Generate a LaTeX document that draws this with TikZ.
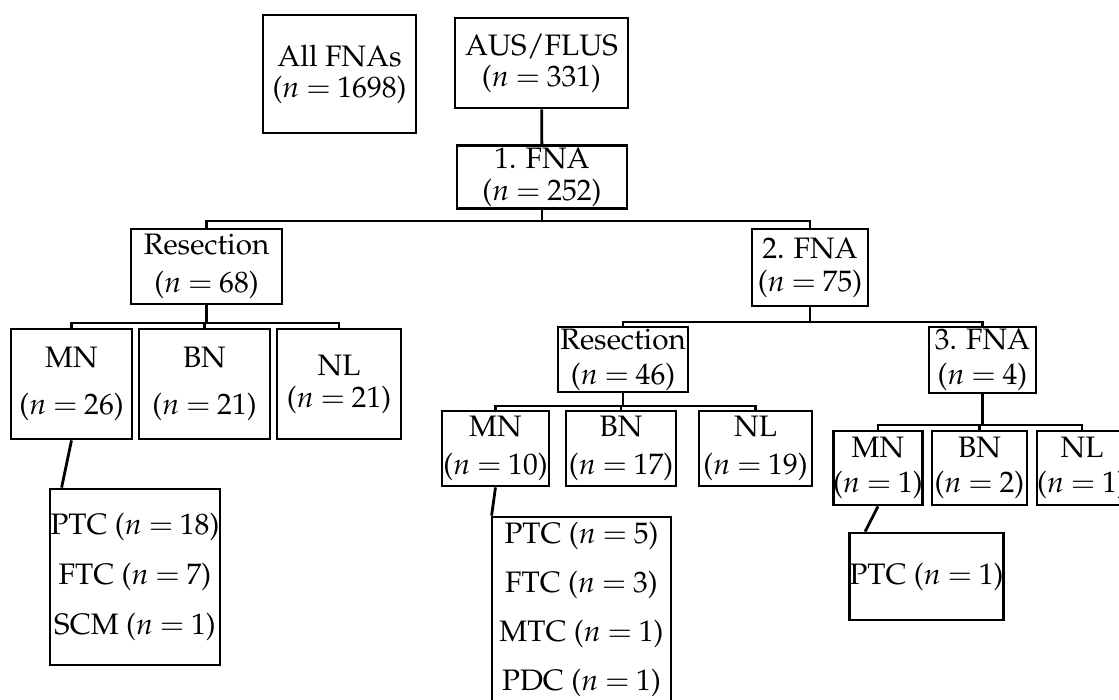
\documentclass[tikz,border=0pt]{standalone}
\usepackage[T1]{fontenc}
\usepackage{mathpazo}

\newcommand{\ncount}[1]{($n\mskip4mu{=}\mskip4mu#1$)}

\begin{document}
\begin{tikzpicture}[
    x=0.5pt, y=-0.5pt,
    block/.style={rectangle, draw, line width=1.4pt, align=center, inner sep=0pt, font=\fontsize{14.8}{15.5}\selectfont},
    dims/.style 2 args={minimum width=#1*0.5pt, minimum height=#2*0.5pt},
    gap/.style={font=\fontsize{14.8}{#1}\selectfont},
    link/.style={line width=1.4pt}
]
    \useasboundingbox (0,0) rectangle (1119,700);

    \node [block, dims={153}{118}] (all) at (339.5,74) {All FNAs\\\ncount{1698}};
    \node [block, dims={173}{90}] (aus) at (541.5,63) {AUS/FLUS\\\ncount{331}};
    \node [block, dims={170}{63}, gap=16] (fna1) at (542,177) {1. FNA\\\ncount{252}};

    \node [block, dims={151}{75}, gap=19] (res68) at (206.5,266.5) {Resection\\\ncount{68}};
    \node [block, dims={116}{77}, gap=16.5] (fna2) at (810,267.5) {2. FNA\\\ncount{75}};

    \node [block, dims={121}{110}, gap=23.5] (mn26) at (71.5,384) {MN\\\ncount{26}};
    \node [block, dims={131}{110}, gap=23.5] (bn21) at (204.5,384) {BN\\\ncount{21}};
    \node [block, dims={124}{110}, gap=16] (nl21) at (339,384) {NL\\\ncount{21}};
    \node [block, dims={170}{176}, gap=25] (ptcL) at (135,577) {PTC \ncount{18}\\FTC \ncount{7}\\SCM \ncount{1}};

    \node [block, dims={130}{65}, gap=17.5] (res46) at (623,359.5) {Resection\\\ncount{46}};
    \node [block, dims={107}{66}, gap=17.5] (fna3) at (982.5,360) {3. FNA\\\ncount{4}};

    \node [block, dims={107}{75}, gap=19] (mn10) at (495.5,448.5) {MN\\\ncount{10}};
    \node [block, dims={110}{75}, gap=19] (bn17) at (621,448.5) {BN\\\ncount{17}};
    \node [block, dims={113}{75}, gap=19] (nl19) at (755.5,448.5) {NL\\\ncount{19}};
    \node [block, dims={179}{185}, gap=24.5] (ptcM) at (581.5,609.5) {PTC \ncount{5}\\FTC \ncount{3}\\MTC \ncount{1}\\PDC \ncount{1}};

    \node [block, dims={86}{74}, gap=17.5] (mn1) at (878,468) {MN\\\ncount{1}};
    \node [block, dims={95}{74}, gap=17.5] (bn2) at (979.5,468) {BN\\\ncount{2}};
    \node [block, dims={90}{74}, gap=17.5] (nl1) at (1082,468) {NL\\\ncount{1}};
    \node [block, dims={151}{87}] (ptcR) at (926.5,576.5) {PTC \ncount{1}};

    % branch points
    \coordinate (b1) at (542,221);
    \coordinate (b2) at (206.5,323);
    \coordinate (b3) at (810,322);
    \coordinate (b4) at (623,406);
    \coordinate (b5) at (982.5,425);

    \draw [link] (aus) -- (fna1);
    \draw [link] (fna1) -- (b1);
    \draw [link] (res68.north) |- (b1) -| (fna2.north);

    \draw [link] (res68) -- (b2);
    \draw [link] (mn26.north) |- (b2) -| (nl21.north);
    \draw [link] (bn21.north) -- (bn21.north |- b2);
    \draw [link] (mn26.south) -- ([xshift=6.5pt]ptcL.north west);

    \draw [link] (fna2) -- (b3);
    \draw [link] (res46.north) |- (b3) -| (fna3.north);

    \draw [link] (res46) -- (b4);
    \draw [link] (mn10.north) |- (b4) -| (nl19.north);
    \draw [link] (bn17.north) -- (bn17.north |- b4);
    \draw [link] (mn10.south) -- ([xshift=0.5pt]ptcM.north west);

    \draw [link] (fna3) -- (b5);
    \draw [link] (mn1.north) |- (b5) -| (nl1.north);
    \draw [link] (bn2.north) -- (bn2.north |- b5);
    \draw [link] (mn1.south) -- ([xshift=8.5pt]ptcR.north west);
\end{tikzpicture}
\end{document}
